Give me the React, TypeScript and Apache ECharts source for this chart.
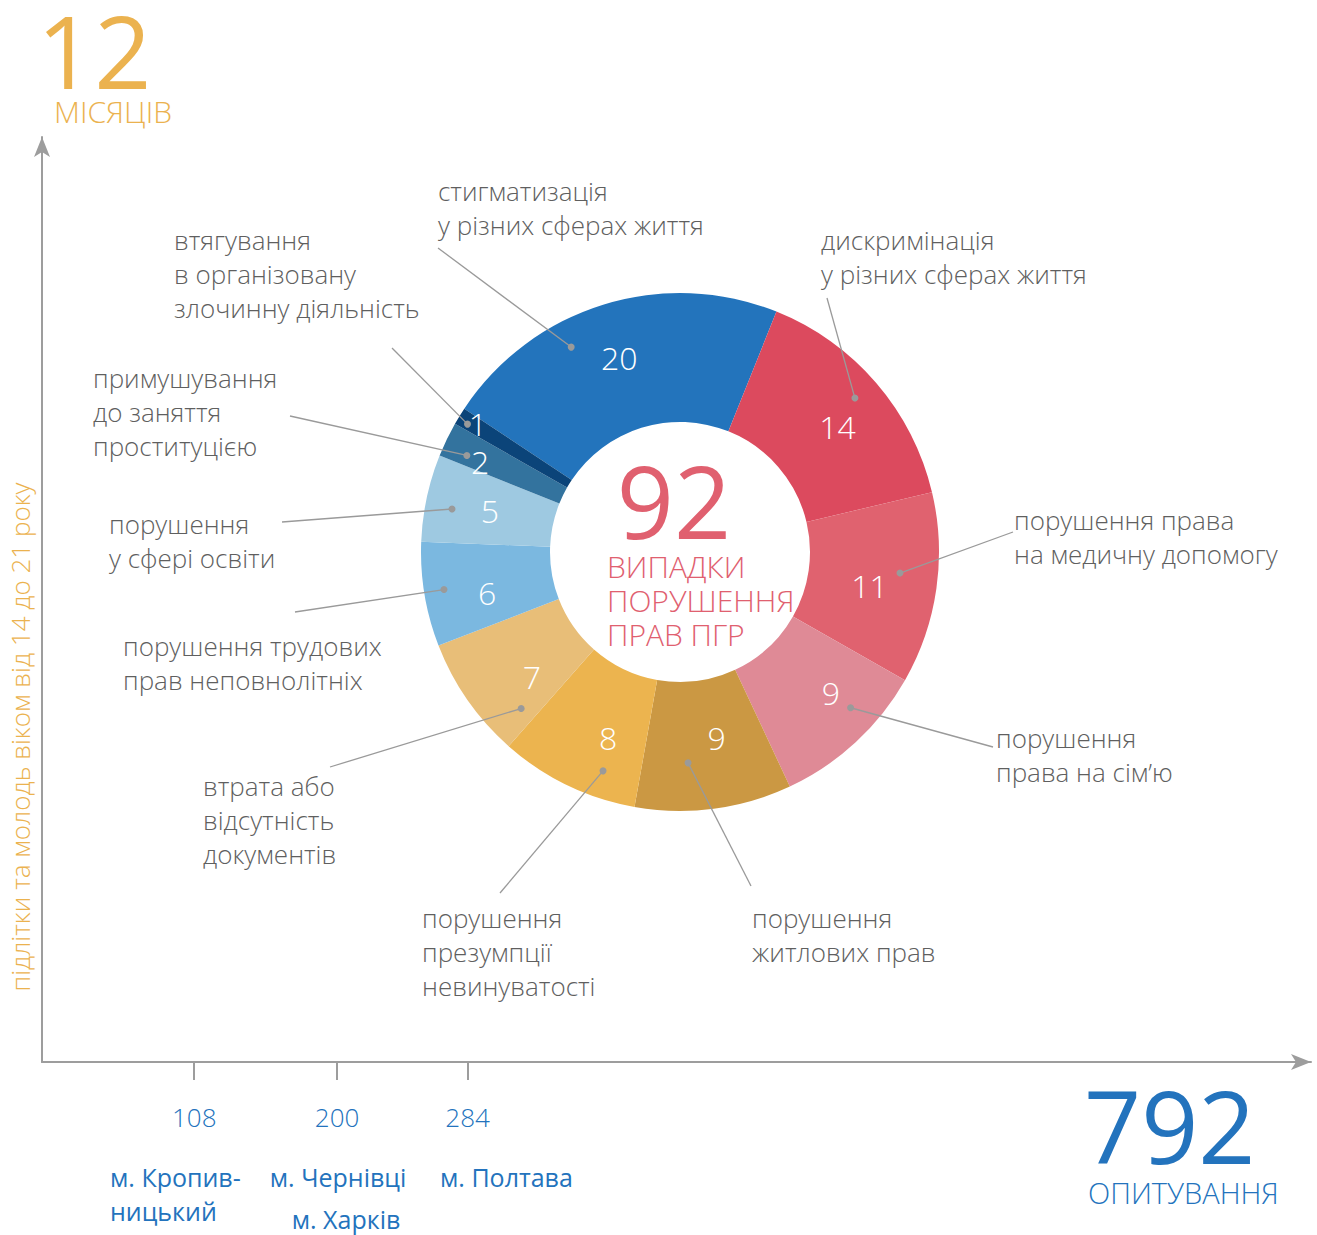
import React, { useEffect, useRef } from "react";
import * as echarts from "echarts";

// ---- data ----
const categories = [
  "стигматизація у різних сферах життя",
  "дискримінація у різних сферах життя",
  "порушення права на медичну допомогу",
  "порушення права на сім’ю",
  "порушення житлових прав",
  "порушення презумпції невинуватості",
  "втрата або відсутність документів",
  "порушення трудових прав неповнолітніх",
  "порушення у сфері освіти",
  "примушування до заняття проституцією",
  "втягування в організовану злочинну діяльність",
];
const values = [20, 14, 11, 9, 9, 8, 7, 6, 5, 2, 1];
const annotationTexts = [
  "стигматизація\nу різних сферах життя",
  "дискримінація\nу різних сферах життя",
  "порушення права\nна медичну допомогу",
  "порушення\nправа на сім’ю",
  "порушення\nжитлових прав",
  "порушення\nпрезумпції\nневинуватості",
  "втрата або\nвідсутність\nдокументів",
  "порушення трудових\nправ неповнолітніх",
  "порушення\nу сфері освіти",
  "примушування\nдо заняття\nпроституцією",
  "втягування\nв організовану\nзлочинну діяльність",
];
const surveyTicks = [108, 200, 284];
const cityLabels = ["м. Кропив-", "ницький", "м. Чернівці", "м. Харків", "м. Полтава"];
const totalCases = "92";
const totalSurveys = "792";
const months = "12";

// ---- styles / layout ----
const colors = [
  "#2374BC", "#DC4A5E", "#E0626F", "#DF8A96", "#CB9843", "#ECB44F",
  "#E8BE78", "#7BB8E0", "#9EC9E1", "#33739E", "#0B4479",
];
const FONT = "'Open Sans', 'Noto Sans', sans-serif";
const CX = 680, CY = 552, R_IN = 130, R_OUT = 259, START = 146.4;
const labelShift = [
  [-2, -6], [8, 3], [-6, 5], [17, -5], [11, -10], [14, 8], [14, 12], [2, 8], [3, 0], [-22, -5], [-34, -25],
];
// dot: angle offset from slice middle (deg), radius
const dotLayout = [
  [10.7, 232], [0.6, 233], [2.7, 221], [4.9, 231], [-5.3, 211], [6.4, 232], [9.7, 223], [-0.4, 239], [1.4, 232], [1.4, 234], [0.6, 248],
];
// annotation: text left x, first line y, line end x, line end y
const annLayout = [
  [438, 191, 438, 248],
  [821, 240, 827, 298],
  [1014, 520, 1013, 532],
  [996, 738, 993, 747],
  [752, 918, 751, 886],
  [422, 918, 500, 893],
  [203, 786, 330, 767],
  [123, 646, 295, 612],
  [109, 524, 282, 522],
  [93, 378, 290, 416],
  [174, 240, 392, 348],
];
const cityLayout = [
  [110, 1177, "left"], [110, 1211, "left"], [338, 1177, "center"], [346, 1219, "center"], [440, 1177, "left"],
];

const GREY_TEXT = "#5f5f5f";
const BLUE = "#2373BD";
const ORANGE = "#EBB24F";
const RED = "#E0606F";
const AXIS = "#9d9d9d";

export default function App() {
  const ref = useRef<HTMLDivElement>(null);
  useEffect(() => {
    if (!ref.current) return;
    const chart = echarts.init(ref.current, null, { renderer: "svg" });
    const total = values.reduce((a, b) => a + b, 0);
    const graphics: any[] = [];
    let cum = 0;
    values.forEach((v, i) => {
      const mid = START - ((cum + v / 2) / total) * 360;
      cum += v;
      const ang = ((mid + dotLayout[i][0]) * Math.PI) / 180;
      const dx = CX + dotLayout[i][1] * Math.cos(ang);
      const dy = CY - dotLayout[i][1] * Math.sin(ang);
      const [tx, ty, lx, ly] = annLayout[i];
      graphics.push({
        type: "line",
        shape: { x1: lx, y1: ly, x2: dx, y2: dy },
        style: { stroke: "#9a9a9a", lineWidth: 1.3 },
        z: 100,
      });
      graphics.push({
        type: "circle",
        shape: { cx: dx, cy: dy, r: 3.5 },
        style: { fill: "#9a9a9a" },
        z: 101,
      });
      graphics.push({
        type: "text",
        x: tx,
        y: ty - 17,
        style: {
          text: annotationTexts[i],
          fill: GREY_TEXT,
          font: `300 26px ${FONT}`,
          lineHeight: 34,
          align: "left",
          verticalAlign: "top",
        },
        z: 100,
      });
    });
    cityLabels.forEach((c, i) => {
      graphics.push({
        type: "text",
        x: cityLayout[i][0],
        y: cityLayout[i][1],
        style: {
          text: c,
          fill: BLUE,
          font: `400 25px ${FONT}`,
          lineHeight: 28,
          align: cityLayout[i][2],
          verticalAlign: "middle",
        },
      });
    });
    const bigText = (text: string, x: number, y: number, size: number, color: string, align = "left", weight = 400, lh = 0) => ({
      type: "text",
      x,
      y,
      style: {
        text,
        fill: color,
        font: `${weight} ${size}px ${FONT}`,
        lineHeight: lh || Math.round(size * 0.8),
        align,
        verticalAlign: "middle",
      },
      z: 100,
    });
    graphics.push(bigText(months, 37, 50, 100, ORANGE));
    graphics.push(bigText("МІСЯЦІВ", 54, 111, 30, ORANGE, "left", 300, 30));
    graphics.push(bigText(totalSurveys, 1084, 1125, 100, BLUE));
    graphics.push(bigText("ОПИТУВАННЯ", 1088, 1192, 29, BLUE, "left", 300, 30));
    graphics.push(bigText(totalCases, 674, 500, 100, RED, "center"));
    graphics.push({
      type: "text",
      x: 607,
      y: 549,
      style: {
        text: "ВИПАДКИ\nПОРУШЕННЯ\nПРАВ ПГР",
        fill: RED,
        font: `300 30px ${FONT}`,
        lineHeight: 34,
        align: "left",
        verticalAlign: "top",
      },
      z: 100,
    });
    graphics.push({
      type: "text",
      x: 20,
      y: 737,
      rotation: Math.PI / 2,
      style: {
        text: "підлітки та молодь віком від 14 до 21 року",
        fill: ORANGE,
        font: `300 26px ${FONT}`,
        align: "center",
        verticalAlign: "middle",
      },
    });

    const option: any = {
      animation: false,
      backgroundColor: "#ffffff",
      grid: { left: 42, right: 6, top: 137, bottom: 173, containLabel: false },
      xAxis: {
        type: "value",
        min: 10,
        max: 827,
        splitLine: { show: false },
        axisLine: {
          show: true,
          onZero: false,
          lineStyle: { color: AXIS, width: 2 },
          symbol: ["none", "arrow"],
          symbolSize: [12, 20],
        },
        axisTick: {
          show: true,
          customValues: surveyTicks,
          length: 18,
          lineStyle: { color: AXIS, width: 2 },
        },
        axisLabel: {
          show: true,
          customValues: surveyTicks,
          margin: 42,
          color: BLUE,
          fontSize: 26,
          fontFamily: FONT,
          fontWeight: 300,
        },
      },
      yAxis: {
        type: "value",
        min: 0,
        max: 1,
        splitLine: { show: false },
        axisTick: { show: false },
        axisLabel: { show: false },
        axisLine: {
          show: true,
          onZero: false,
          lineStyle: { color: AXIS, width: 2 },
          symbol: ["none", "arrow"],
          symbolSize: [12, 20],
        },
      },
      series: [
        {
          type: "pie",
          silent: true,
          center: [CX, CY],
          radius: [R_IN, R_OUT],
          startAngle: START,
          clockwise: true,
          avoidLabelOverlap: false,
          data: categories.map((name, i) => ({
            name,
            value: values[i],
            itemStyle: { color: colors[i] },
          })),
          itemStyle: { borderWidth: 0 },
          label: {
            show: true,
            position: "inside",
            formatter: "{c}",
            color: "#ffffff",
            fontSize: 32,
            fontFamily: FONT,
            fontWeight: 300,
          },
          labelLine: { show: false },
          labelLayout: (p: any) => ({ dx: labelShift[p.dataIndex][0], dy: labelShift[p.dataIndex][1] }),
        },
      ],
      graphic: { elements: graphics },
    };
    chart.setOption(option);
    return () => chart.dispose();
  }, []);
  return (
    <div
      ref={ref}
      style={{ position: "absolute", left: 0, top: 0, width: 1317, height: 1235, background: "#fff" }}
    />
  );
}
